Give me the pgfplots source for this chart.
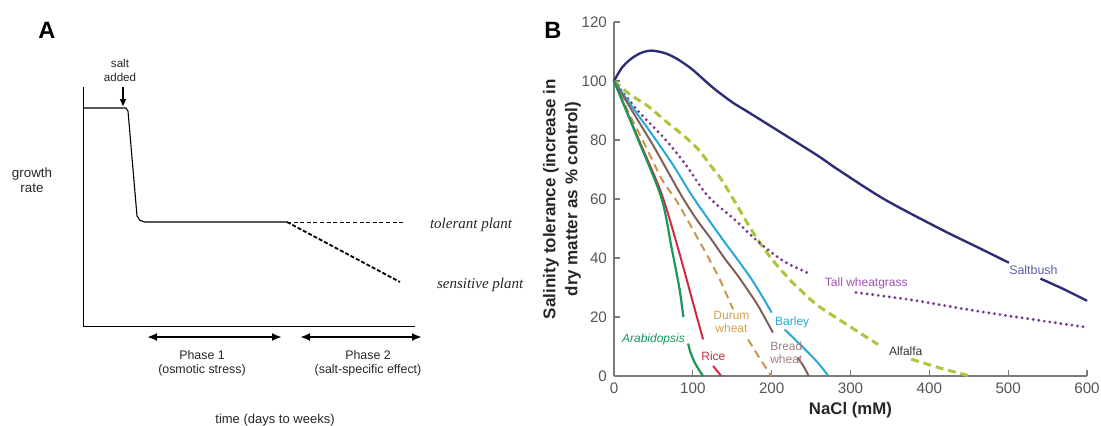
\documentclass[border=0pt]{standalone}
\usepackage{fontspec}
\setmainfont{Liberation Sans}
\newfontfamily\serifit{Liberation Serif}
\usepackage{pgfplots}
\pgfplotsset{compat=1.18}
\usetikzlibrary{arrows.meta}

\definecolor{axgray}{HTML}{7A7A7A}
\definecolor{tickgray}{HTML}{555555}
\definecolor{saltc}{HTML}{2C2E78}
\definecolor{saltl}{HTML}{5A5EA8}
\definecolor{grassc}{HTML}{7A3A90}
\definecolor{grassl}{HTML}{A050B0}
\definecolor{alfc}{HTML}{A8C83C}
\definecolor{barc}{HTML}{28A8D8}
\definecolor{breadc}{HTML}{806058}
\definecolor{breadl}{HTML}{A08080}
\definecolor{durc}{HTML}{C89848}
\definecolor{durl}{HTML}{D0A050}
\definecolor{ricec}{HTML}{D02C40}
\definecolor{arabc}{HTML}{18985A}

\begin{document}
\begin{tikzpicture}
\useasboundingbox (0,0) rectangle (550.5pt,212.5pt);

% panel letters
\node[font=\fontsize{11.8}{12}\selectfont\bfseries] at (23.5pt,197.5pt) {A};
\node[font=\fontsize{11.8}{12}\selectfont\bfseries] at (276.5pt,197.5pt) {B};

% ---------- panel A (schematic) ----------
\begin{axis}[
  at={(41.5pt,49.5pt)}, anchor=south west,
  scale only axis, width=166pt, height=119.5pt,
  xmin=0, xmax=332, ymin=0, ymax=239,
  axis lines=left, axis line style={-, line width=0.5pt, black},
  xtick=\empty, ytick=\empty,
  clip=false,
]
\addplot[black, line width=0.55pt] coordinates {(0,218)(43,218)(45,215)(54,110)(57,105.5)(62,104)(204,104)};
\addplot[black, line width=0.45pt, dash pattern=on 2pt off 1.3pt] coordinates {(204,104)(322,104)};
\addplot[black, line width=0.9pt, dash pattern=on 2pt off 1pt] coordinates {(204,104)(317,44)};
\addplot[black, line width=0.8pt, -{Latex[length=4pt,width=3.5pt]}] coordinates {(40,239)(40,219)};
\addplot[black, line width=1pt, {Latex[length=5pt,width=4pt]}-{Latex[length=5pt,width=4pt]}] coordinates {(64,-11)(199,-11)};
\addplot[black, line width=1pt, {Latex[length=5pt,width=4pt]}-{Latex[length=5pt,width=4pt]}] coordinates {(217,-11)(339,-11)};

\node[font=\fontsize{5.8}{7}\selectfont, align=center, text=black!85] at (axis cs:37,256) {salt\\added};
\node[font=\fontsize{6.7}{7.5}\selectfont, align=center, text=black!85] at (axis cs:-51,146) {growth\\rate};
\node[font=\fontsize{7.5}{8}\selectfont\serifit\itshape, anchor=west, text=black!85] at (axis cs:340,101) {tolerant plant};
\node[font=\fontsize{7.5}{8}\selectfont\serifit\itshape, anchor=west, text=black!85] at (axis cs:347,41) {sensitive plant};
\node[font=\fontsize{6.2}{7}\selectfont, align=center, text=black!85] at (axis cs:119,-37) {Phase 1\\(osmotic stress)};
\node[font=\fontsize{6.2}{7}\selectfont, align=center, text=black!85] at (axis cs:285,-37) {Phase 2\\(salt-specific effect)};
\node[font=\fontsize{6.5}{7}\selectfont, text=black!85] at (axis cs:192,-94) {time (days to weeks)};
\end{axis}

% ---------- panel B (salinity tolerance) ----------
\begin{axis}[
  at={(307pt,24.5pt)}, anchor=south west,
  scale only axis, width=236.5pt, height=177pt,
  xmin=0, xmax=600, ymin=0, ymax=120,
  axis lines=left, axis line style={-, draw=axgray, line width=0.7pt},
  xtick={0,100,...,600}, ytick={0,20,...,120},
  tick align=inside, major tick length=3pt,
  tick style={axgray, line width=0.6pt},
  ticklabel style={font=\fontsize{7.6}{8}\selectfont, text=tickgray},
  /pgf/number format/assume math mode=true,
  clip=false,
]
% Saltbush
\addplot[saltc, line width=1.2pt, smooth, tension=0.5] coordinates {
  (0,100)(10,104.5)(22,107.6)(35,109.6)(48,110.3)(65,109.4)(80,107.5)(98,104.2)(115,100.2)
  (128,97.2)(150,92.8)(170,89.5)(212,82.5)(259,74.6)(284,70)(343,59.9)(415,49.7)(460,43.8)(501,38.4)};
\addplot[saltc, line width=1.2pt, smooth] coordinates {(541,33)(570,29.5)(600,25.5)};
% Alfalfa
\addplot[alfc, line width=1.5pt, dash pattern=on 4pt off 2.4pt, smooth, tension=0.5] coordinates {
  (0,100)(20,95.5)(43,91.5)(65,86.5)(86,82)(107,76.8)(122,71.5)(136,66.7)(149,61)
  (160,56)(174,49.7)(188,44)(204,38.4)(220,33.5)(233,30)(258,24)(292,18)(320,13.2)(335,10.7)};
\addplot[alfc, line width=1.5pt, dash pattern=on 4pt off 2.4pt, smooth] coordinates {(377,5.7)(400,3.8)(419,2.3)(451,0)};
% Tall wheatgrass
\addplot[grassc, line width=1.6pt, line cap=round, dash pattern=on 0pt off 2.8pt, smooth, tension=0.5] coordinates {
  (0,100)(30,90)(64,80.5)(90,72)(119,61)(153,53)(183,45.5)(216,38.8)(250,34.5)};
\addplot[grassc, line width=1.6pt, line cap=round, dash pattern=on 0pt off 2.8pt, smooth] coordinates {
  (307,28.3)(377,25.8)(461,22)(546,18.6)(600,16.5)};
% Barley
\addplot[barc, line width=1pt, smooth, tension=0.5] coordinates {
  (0,100)(25,90.5)(48,82)(75,71.5)(98,61.5)(120,53)(140,45.5)(158,39)(174,33)(188,27)(200,21.5)};
\addplot[barc, line width=1pt, smooth] coordinates {(216.5,15.8)(242,9.1)(258.6,4.5)(272,0)};
% Bread wheat
\addplot[breadc, line width=1pt, smooth, tension=0.5] coordinates {
  (0,100)(25,89)(50,78)(70,68.5)(87,60.5)(105,53)(123.5,46.3)(140,40)(157,34)(170,29)(183,23.7)(201.6,14.7)};
\addplot[breadc, line width=1pt, smooth] coordinates {(233,6.2)(240,3.5)(247,0)};
% Durum wheat
\addplot[durc, line width=1pt, dash pattern=on 4pt off 2.6pt, smooth, tension=0.5] coordinates {
  (0,100)(20,88.5)(40,78)(60,67)(79,59.5)(93,53)(107,46.3)(122,39)(136,31.7)(151,22.6)};
\addplot[durc, line width=1pt, dash pattern=on 4pt off 2.6pt, smooth] coordinates {(170,12.4)(183,6.8)(199.5,0)};
% Rice
\addplot[ricec, line width=1pt, smooth, tension=0.5] coordinates {
  (0,100)(30,81)(60,62)(81,43.5)(98,27)(113,12.4)};
\addplot[ricec, line width=1pt, smooth] coordinates {(125.7,3.4)(136,0)};
% Arabidopsis
\addplot[arabc, line width=1.1pt, smooth, tension=0.5] coordinates {
  (0,100)(30,80.5)(60,60.5)(73,43.5)(80,34)(84,28)(88,20)};
\addplot[arabc, line width=1.1pt, smooth, tension=0.5] coordinates {(94,11)(97,8)(102.5,4.5)(108,2)(113,0)};

% curve labels
\node[font=\fontsize{6.2}{6.5}\selectfont, text=saltl] at (axis cs:532,36) {Saltbush};
\node[font=\fontsize{6}{6.5}\selectfont, text=grassl] at (axis cs:320,31.4) {Tall wheatgrass};
\node[font=\fontsize{6}{6.5}\selectfont, text=black!80] at (axis cs:370,8.3) {Alfalfa};
\node[font=\fontsize{6}{6.5}\selectfont, text=barc] at (axis cs:226,18.1) {Barley};
\node[font=\fontsize{6}{6.3}\selectfont, text=breadl, align=center] at (axis cs:218.5,8) {Bread\\wheat};
\node[font=\fontsize{6}{6.3}\selectfont, text=durl, align=center] at (axis cs:149,18.4) {Durum\\wheat};
\node[font=\fontsize{6}{6.5}\selectfont, text=ricec] at (axis cs:126,6.6) {Rice};
\node[font=\fontsize{6}{6.5}\selectfont\itshape, text=arabc] at (axis cs:50,12.4) {Arabidopsis};

% axis titles
\node[font=\fontsize{8.5}{11}\selectfont\bfseries, rotate=90, align=center, text=black!85] at (rel axis cs:-0.11,0.5) {Salinity tolerance (increase in\\dry matter as \% control)};
\node[font=\fontsize{8.4}{9}\selectfont\bfseries, text=black!85] at (rel axis cs:0.5,0) [yshift=-17pt] {NaCl (mM)};
\end{axis}
\end{tikzpicture}
\end{document}
